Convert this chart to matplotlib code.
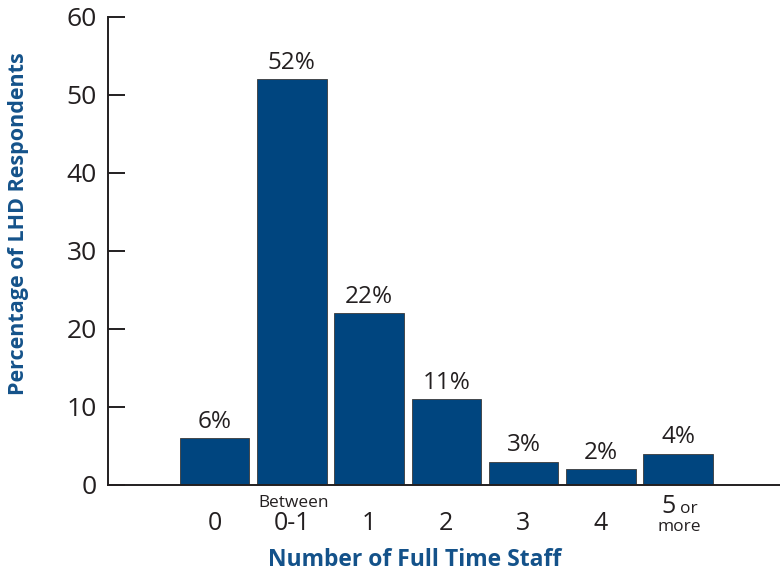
import matplotlib
matplotlib.use('Agg')
import matplotlib.pyplot as plt
import matplotlib.transforms as mtrans
import numpy as np

plt.rcParams['font.family'] = ['Open Sans', 'DejaVu Sans']

# --- DATOS ---
categorias = ['0', 'Between 0-1', '1', '2', '3', '4', '5 or more']
porcentajes = [6, 52, 22, 11, 3, 2, 4]
etiquetas = ['6%', '52%', '22%', '11%', '3%', '2%', '4%']
yticks = [0, 10, 20, 30, 40, 50, 60]

AZUL = '#00457f'
TITULO = '#14528a'
TEXTO = '#231f20'
W, H = 780, 571

fig = plt.figure(figsize=(W / 100, H / 100), dpi=100)
ax = fig.add_axes([108 / W, 1 - 485 / H, 1 - 108 / W, (485 - 17) / H])

x = np.arange(len(categorias))
ax.bar(x, porcentajes, width=0.9, color=AZUL, edgecolor='#3a3a3a', linewidth=0.6, zorder=2)

for xi, v, lab in zip(x, porcentajes, etiquetas):
    ax.annotate(lab, (xi, v), xytext=(0, 7.5), textcoords='offset points',
                ha='center', va='baseline', fontsize=17.5, color=TEXTO)

ax.set_xlim(-1.38, 7.32)
ax.set_ylim(0, 60)
ax.set_yticks(yticks)
ax.tick_params(axis='y', direction='in', length=12, width=1.4, color=TEXTO,
               labelsize=19, labelcolor=TEXTO, pad=8)
ax.set_xticks([])

for s in ['top', 'right']:
    ax.spines[s].set_visible(False)
for s in ['left', 'bottom']:
    ax.spines[s].set_linewidth(1.4)
    ax.spines[s].set_color(TEXTO)

# Etiquetas del eje x (x en datos, y en píxeles de la figura)
trans = mtrans.blended_transform_factory(ax.transData, fig.transFigure)

def fy(py):
    return 1 - py / H

for xi, cat in zip(x, categorias):
    if cat.startswith('Between'):
        ax.text(xi + 0.02, fy(507), 'Between', transform=trans, ha='center', va='baseline', fontsize=12.4, color=TEXTO)
        ax.text(xi, fy(530), '0-1', transform=trans, ha='center', va='baseline', fontsize=18, color=TEXTO)
    elif cat.startswith('5'):
        ax.text(xi - 0.13, fy(513), '5', transform=trans, ha='center', va='baseline', fontsize=18, color=TEXTO)
        ax.text(xi + 0.14, fy(513), 'or', transform=trans, ha='center', va='baseline', fontsize=12.5, color=TEXTO)
        ax.text(xi + 0.02, fy(531), 'more', transform=trans, ha='center', va='baseline', fontsize=12.5, color=TEXTO)
    else:
        ax.text(xi, fy(530), cat, transform=trans, ha='center', va='baseline', fontsize=18, color=TEXTO)

fig.text(414.5 / W, fy(566), 'Number of Full Time Staff', ha='center', va='baseline',
         fontsize=16.5, fontweight='bold', color=TITULO)
fig.text(19 / W, fy(224), 'Percentage of LHD Respondents', ha='center', va='center',
         rotation=90, fontsize=15.5, fontweight='bold', color=TITULO)

fig.savefig('out.png', dpi=100)
